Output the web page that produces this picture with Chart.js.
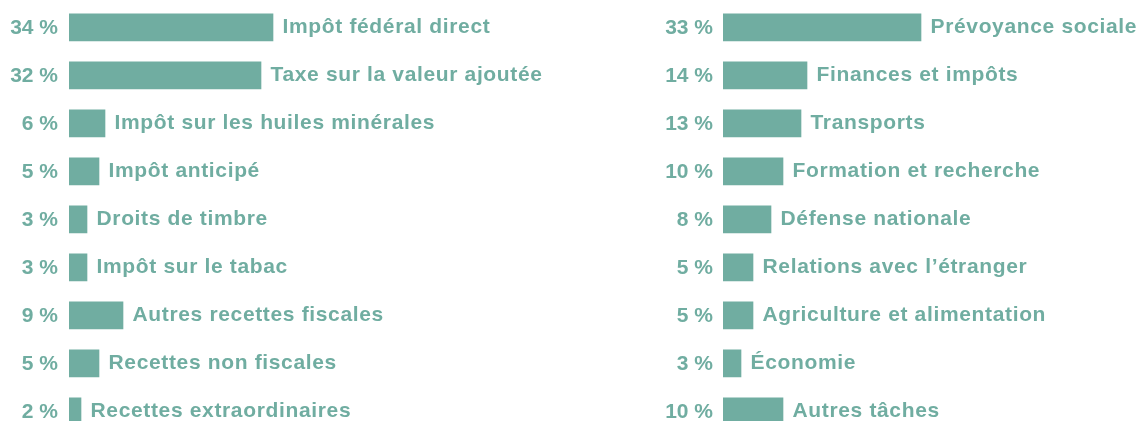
<!DOCTYPE html>
<html lang="fr">
<head>
<meta charset="utf-8">
<title>Recettes et dépenses</title>
<script src="https://cdn.jsdelivr.net/npm/chart.js@4/dist/chart.umd.min.js"></script>
<style>
  html, body { margin: 0; padding: 0; background: #ffffff; overflow: hidden; }
  body { width: 1141px; height: 421px; position: relative; }
  canvas { position: absolute; top: 0; }
  #recettes { left: 0; }
  #depenses { left: 650px; }
</style>
</head>
<body>
<canvas id="recettes" width="570" height="440"></canvas>
<canvas id="depenses" width="491" height="440"></canvas>
<script>
// Recettes (gauche)
const recettesLabels = [
  'Impôt fédéral direct',
  'Taxe sur la valeur ajoutée',
  'Impôt sur les huiles minérales',
  'Impôt anticipé',
  'Droits de timbre',
  'Impôt sur le tabac',
  'Autres recettes fiscales',
  'Recettes non fiscales',
  'Recettes extraordinaires'
];
const recettesValues = [34, 32, 6, 5, 3, 3, 9, 5, 2];

// Dépenses (droite)
const depensesLabels = [
  'Prévoyance sociale',
  'Finances et impôts',
  'Transports',
  'Formation et recherche',
  'Défense nationale',
  'Relations avec l’étranger',
  'Agriculture et alimentation',
  'Économie',
  'Autres tâches'
];
const depensesValues = [33, 14, 13, 10, 8, 5, 5, 3, 10];

const TEAL = '#70ada1';
const FONT_FAMILY = '"Liberation Sans", Arial, Helvetica, sans-serif';
const PX_PER_PERCENT = 6;

// Writes each category name just after the end of its bar
const barNamePlugin = {
  id: 'barNames',
  afterDatasetsDraw(chart) {
    const ctx = chart.ctx;
    const meta = chart.getDatasetMeta(0);
    ctx.save();
    ctx.font = 'bold 21px ' + FONT_FAMILY;
    ctx.letterSpacing = '0.65px';
    ctx.fillStyle = TEAL;
    ctx.textAlign = 'left';
    ctx.textBaseline = 'alphabetic';
    meta.data.forEach((bar, i) => {
      ctx.fillText(chart.data.labels[i], bar.x + 9.5, bar.y + 6);
    });
    ctx.restore();
  }
};

function makeChart(id, labels, values, axisWidth, tickPad) {
  const canvas = document.getElementById(id);
  const plotWidth = canvas.width - axisWidth;
  return new Chart(canvas, {
    type: 'bar',
    data: {
      labels: labels,
      datasets: [{
        data: values,
        backgroundColor: TEAL,
        borderWidth: 0,
        barThickness: 27
      }]
    },
    options: {
      indexAxis: 'y',
      responsive: false,
      animation: false,
      events: [],
      layout: { padding: { top: 3.4, bottom: 4.6, left: 0, right: 0 } },
      plugins: {
        legend: { display: false },
        tooltip: { enabled: false }
      },
      scales: {
        x: {
          display: false,
          min: 0,
          max: plotWidth / PX_PER_PERCENT
        },
        y: {
          grid: { display: false, drawTicks: false, tickLength: 0 },
          border: { display: false },
          afterFit(scale) {
            scale.width = axisWidth;
            scale.paddingTop = 0;
            scale.paddingBottom = 0;
          },
          ticks: {
            color: TEAL,
            padding: tickPad,
            labelOffset: 0.5,
            font: { family: FONT_FAMILY, weight: 'bold', size: 21 },
            callback: (value, index) => values[index] + ' %'
          }
        }
      }
    },
    plugins: [barNamePlugin]
  });
}

makeChart('recettes', recettesLabels, recettesValues, 69, 11);
makeChart('depenses', depensesLabels, depensesValues, 73, 10);
</script>
</body>
</html>
